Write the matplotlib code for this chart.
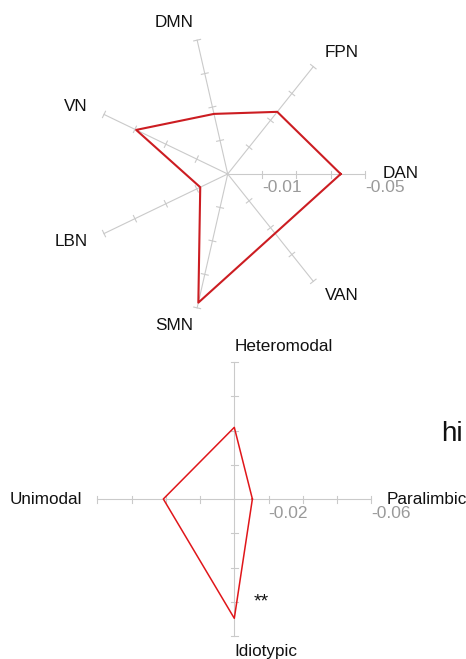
import numpy as np
import matplotlib
matplotlib.use("Agg")
import matplotlib.pyplot as plt

plt.rcParams['font.family'] = ['Liberation Sans', 'DejaVu Sans']

# Network-level radar (scaled position along each spoke, 0 = centre, 1 = rim)
net_labels = ["DAN", "FPN", "DMN", "VN", "LBN", "SMN", "VAN"]
net_values = [0.823, 0.579, 0.449, 0.740, 0.222, 0.961, 0.553]
net_tick_text = ["-0.01", "-0.05"]

# Hierarchy-level radar
hier_labels = ["Paralimbic", "Heteromodal", "Unimodal", "Idiotypic"]
hier_values = [0.132, 0.523, 0.518, 0.871]
hier_tick_text = ["-0.02", "-0.06"]

grid_steps = [0.25, 0.5, 0.75, 1.0]

W, H = 466, 659
fig = plt.figure(figsize=(W / 100, H / 100), dpi=100)
ax = fig.add_axes([0, 0, 1, 1])
ax.set_xlim(0, W)
ax.set_ylim(H, 0)
ax.axis("off")

GREY = "#cacaca"


def radar(cx, cy, R, labels, values, tick_text, red, lw, lab_r):
	n = len(labels)
	ang = np.arange(n) * 2 * np.pi / n
	ux, uy = np.cos(ang), -np.sin(ang)  # screen y goes down
	for i in range(n):
		ax.plot([cx, cx + R * ux[i]], [cy, cy + R * uy[i]], color=GREY, lw=0.8, zorder=1)
		px, py = -uy[i], ux[i]  # perpendicular for the tick marks
		for s in grid_steps:
			x0, y0 = cx + s * R * ux[i], cy + s * R * uy[i]
			ax.plot([x0 - 3.5 * px, x0 + 3.5 * px], [y0 - 3.5 * py, y0 + 3.5 * py],
					color=GREY, lw=0.8, zorder=1)
		ha = "left" if ux[i] >= -1e-9 else "right"
		ax.text(cx + lab_r * R * ux[i], cy + lab_r * R * uy[i], labels[i],
				ha=ha, va="center", fontsize=12.3, color="#111111", zorder=3)
	# scale labels on the first spoke
	ax.text(cx + 0.25 * R, cy + 14, tick_text[0], ha="left", va="center",
			fontsize=12.5, color="#9a9a9a", zorder=2)
	ax.text(cx + R, cy + 14, tick_text[1], ha="left", va="center",
			fontsize=12.5, color="#9a9a9a", zorder=2)
	v = np.array(values)
	xs = cx + v * R * ux
	ys = cy + v * R * uy
	ax.plot(np.append(xs, xs[0]), np.append(ys, ys[0]), color=red, lw=lw, zorder=4)


radar(227.7, 174, 137.3, net_labels, net_values, net_tick_text, "#cc1d22", 1.5, 1.13)
radar(234.3, 499, 137.0, hier_labels, hier_values, hier_tick_text, "#e0161a", 1.1, 1.11)

ax.text(261.7, 602, "**", ha="center", va="center", fontsize=14, color="#111111")
ax.text(441, 434, "hi", ha="left", va="center", fontsize=20, color="#111111")

fig.savefig("out.png", dpi=100)
